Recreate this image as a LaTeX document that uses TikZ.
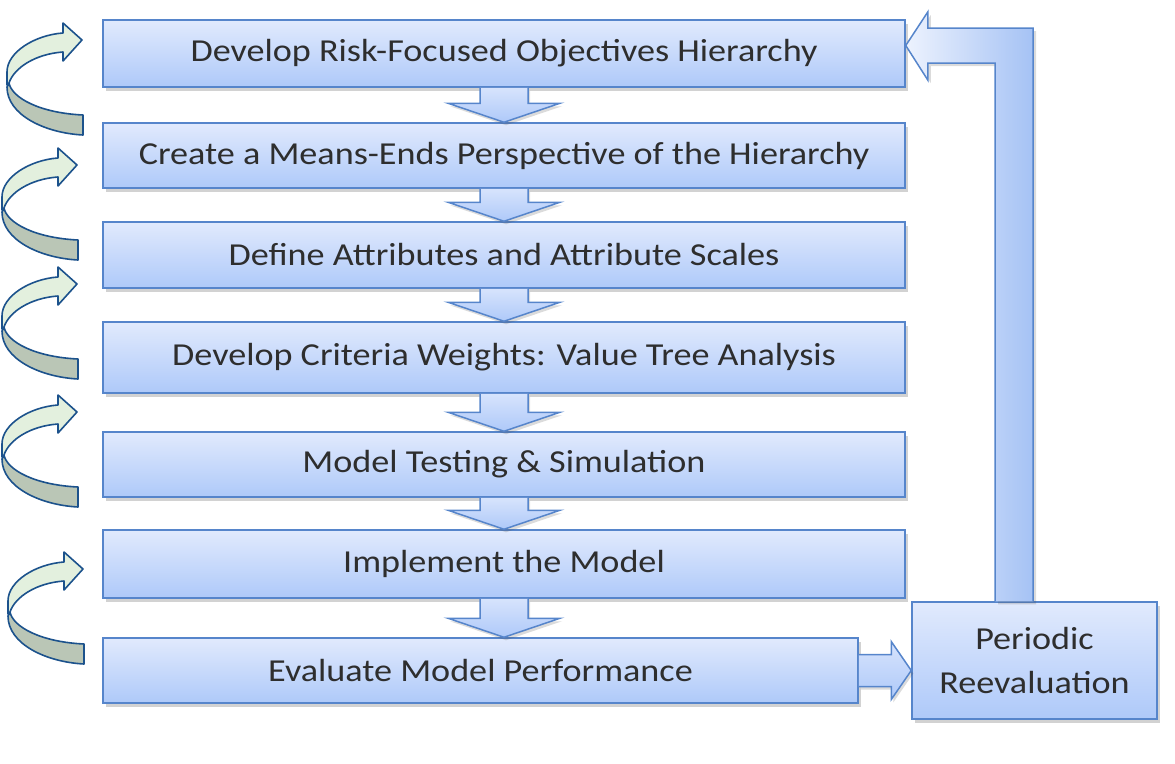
\documentclass[tikz,border=0pt]{standalone}
\usepackage{fontspec}
\setmainfont[FakeStretch=1.13]{Carlito}
\usetikzlibrary{calc,shadows}
\definecolor{boxtop}{RGB}{225,234,253}
\definecolor{boxbot}{RGB}{174,201,249}
\definecolor{boxline}{RGB}{86,133,203}
\definecolor{turnline}{RGB}{28,82,140}
\definecolor{turnfront}{RGB}{227,240,222}
\definecolor{turnback}{RGB}{186,198,182}
\tikzstyle{stepbox} = [rectangle, draw=boxline, line width=1.5pt, top color=boxtop, bottom color=boxbot, minimum width=802pt, text=black!82, font=\fontsize{32}{44}\selectfont, drop shadow={shadow xshift=3pt, shadow yshift=-4pt, opacity=0.25, fill=black!70}]
\tikzstyle{flowarrow} = [draw=boxline, line width=1.5pt, top color=boxtop!80!boxbot, bottom color=boxbot, drop shadow={shadow xshift=2pt, shadow yshift=-3pt, opacity=0.2, fill=black!70}]
\tikzstyle{loopback} = [draw=boxline, line width=1.5pt, left color=boxtop!60!white, right color=boxbot!90!boxline, drop shadow={shadow xshift=3pt, shadow yshift=-3pt, opacity=0.2, fill=black!70}]
\tikzstyle{turnfrontpart} = [draw=turnline, line width=1.6pt, fill=turnfront, line join=round]
\tikzstyle{turnbackpart} = [draw=turnline, line width=1.6pt, fill=turnback, line join=round]

% block arrow from the bottom of one box to the top of the next
\newcommand\stepdown[2]{%
  \coordinate (tip) at (#1.south |- #2.north);
  \draw[flowarrow] ([xshift=-24pt]#1.south) -- ([xshift=-24pt,yshift=19pt]tip) -- ([xshift=-56pt,yshift=19pt]tip) -- (tip) -- ([xshift=56pt,yshift=19pt]tip) -- ([xshift=24pt,yshift=19pt]tip) -- ([xshift=24pt]#1.south);}

\begin{document}
\begin{tikzpicture}[x=1pt, y=-1pt]

        \useasboundingbox (0,0) rectangle (1175,763);

        %% steps

        \node (obj) [stepbox, minimum height=67pt] at (504,53.5) {Develop Risk-Focused Objectives Hierarchy};
        \node (means) [stepbox, minimum height=65pt] at (504,155.5) {Create a Means-Ends Perspective of the Hierarchy};
        \node (attr) [stepbox, minimum height=66pt] at (504,255) {Define Attributes and Attribute Scales};
        \node (weights) [stepbox, minimum height=71pt] at (504,357.5) {Develop Criteria Weights: Value Tree Analysis};
        \node (testing) [stepbox, minimum height=65pt] at (504,464.5) {Model Testing \& Simulation};
        \node (implement) [stepbox, minimum height=68pt] at (504,564) {Implement the Model};
        \node (evaluate) [stepbox, minimum width=755pt, minimum height=65pt] at (480.5,670.5) {Evaluate Model Performance};

        \node (reeval) [stepbox, minimum width=245pt, minimum height=117pt, align=center] at (1034.5,660.5) {Periodic\\Reevaluation};

        %% arrows down

        \stepdown{obj}{means}
        \stepdown{means}{attr}
        \stepdown{attr}{weights}
        \stepdown{weights}{testing}
        \stepdown{testing}{implement}
        \stepdown{implement}{evaluate}

        %% to the reevaluation and back

        \coordinate (rtip) at (evaluate.east -| reeval.west);
        \draw[flowarrow] ([yshift=16pt]evaluate.east) -- ([xshift=-20pt,yshift=16pt]rtip) -- ([xshift=-20pt,yshift=29pt]rtip) -- (rtip) -- ([xshift=-20pt,yshift=-29pt]rtip) -- ([xshift=-20pt,yshift=-16pt]rtip) -- ([yshift=-16pt]evaluate.east);

        \draw[loopback] ([xshift=-39.5pt]reeval.north) |- ([xshift=22pt,yshift=-9.5pt]obj.east) -- ([xshift=22pt,yshift=-26.5pt]obj.east) -- ([yshift=8pt]obj.east) -- ([xshift=22pt,yshift=41.5pt]obj.east) -- ([xshift=22pt,yshift=25.5pt]obj.east) -| ([xshift=-1.5pt]reeval.north);

        %% curved arrows on the left

        \foreach \dx/\t in {0/40, -5/165, -5/284, -5/412, 1/569} {
          \begin{scope}[shift={(\dx,\t)}]
            \draw[turnbackpart] (7,47) .. controls (7,75) and (45,93) .. (83,95) -- (83,75) .. controls (40,73) and (12,58) .. (9,43) -- cycle;
            \draw[turnfrontpart] (82,0) -- (63,-17) -- (63,-7) .. controls (35,-5) and (7,12) .. (7,32) -- (7,45) -- (9,43) .. controls (14,28) and (35,14) .. (63,12) -- (63,21) -- cycle;
          \end{scope}
        }

\end{tikzpicture}
\end{document}
